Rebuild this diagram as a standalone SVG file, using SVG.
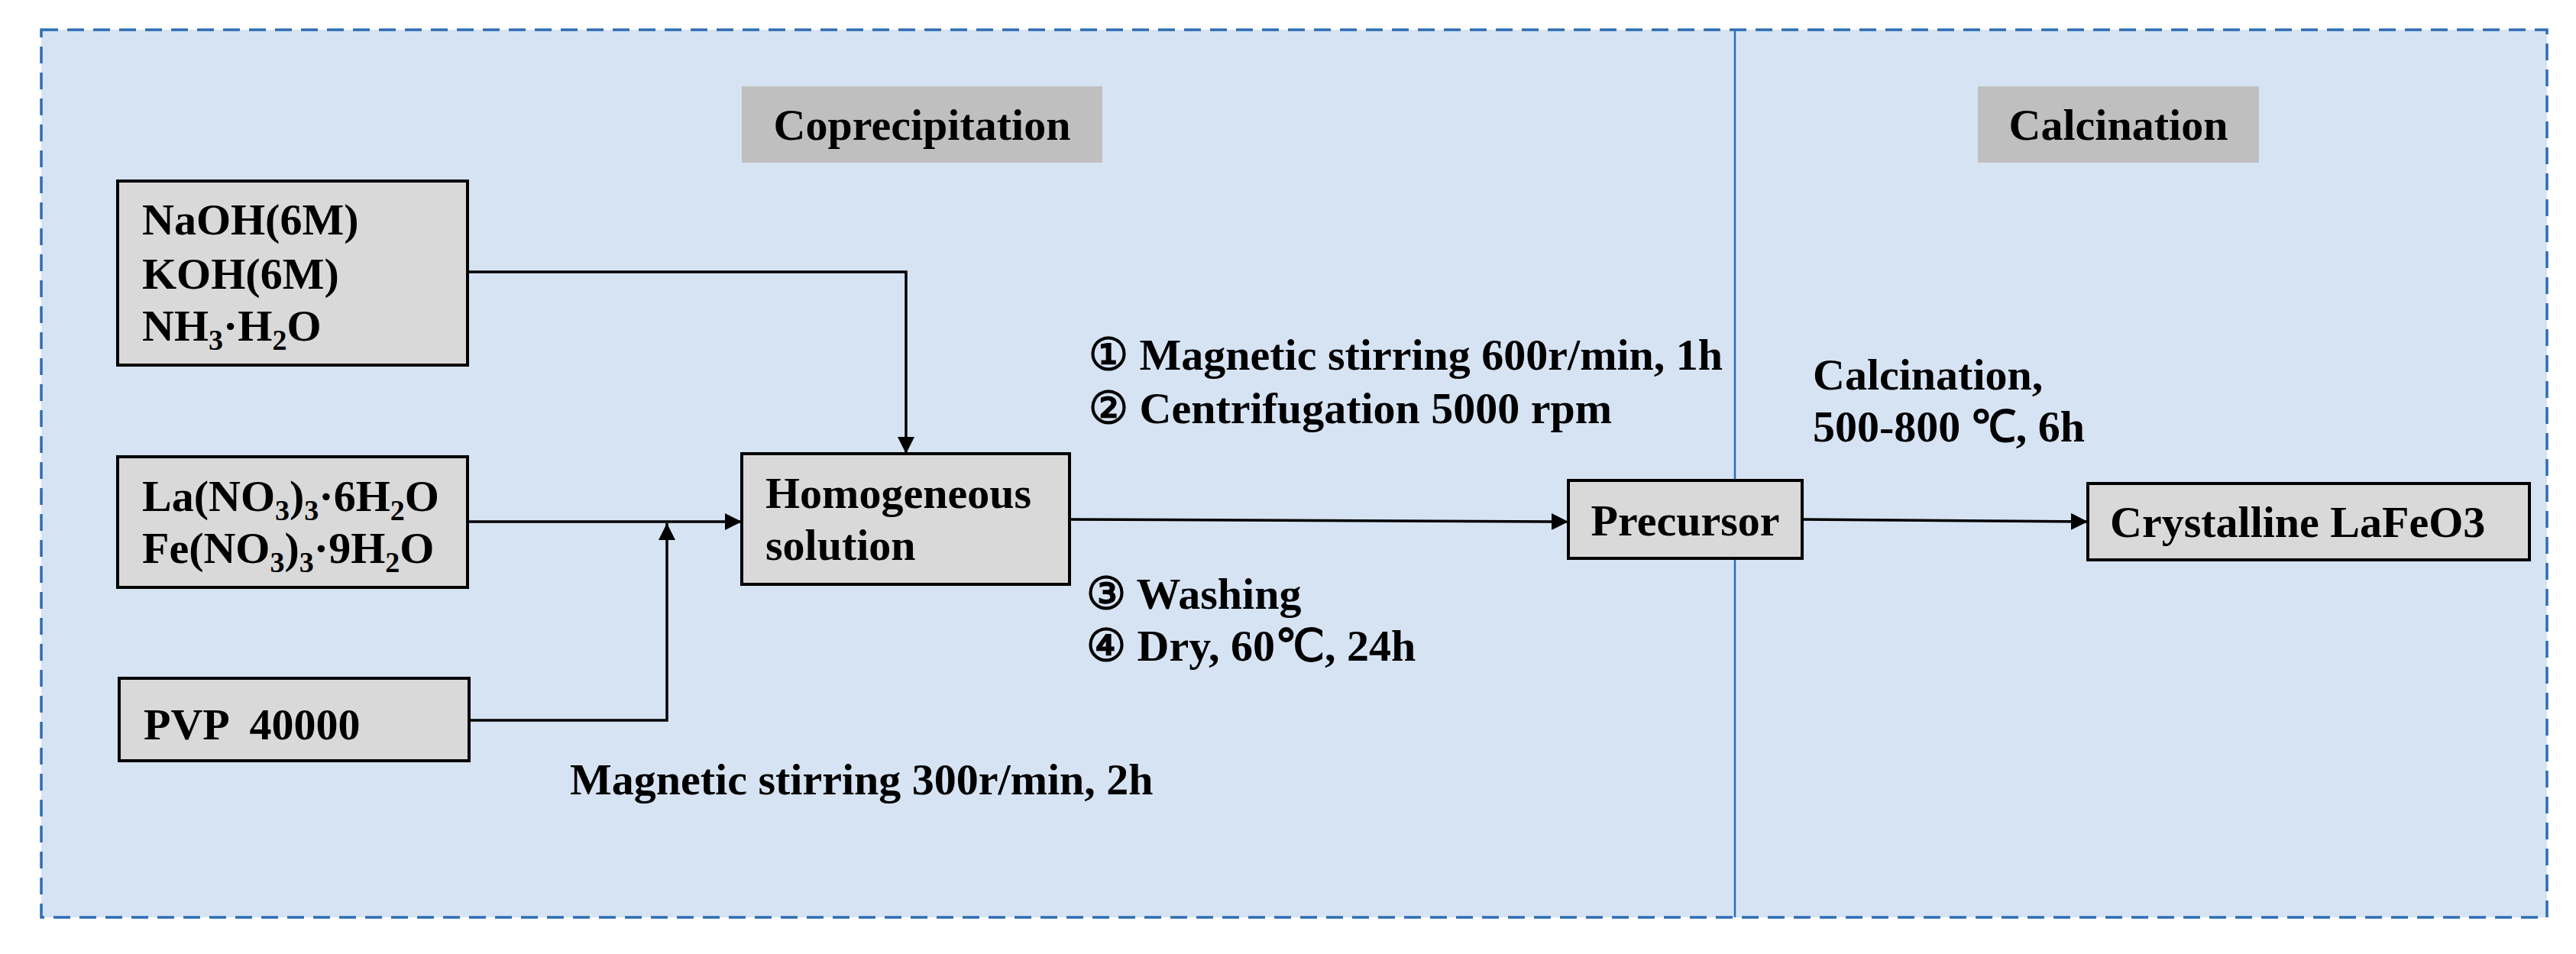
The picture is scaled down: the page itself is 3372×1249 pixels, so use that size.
<svg xmlns="http://www.w3.org/2000/svg" width="3372" height="1249" viewBox="0 0 3372 1249">
<defs>
<style>
text{font-family:"Liberation Serif","Times New Roman",serif;font-weight:bold;font-size:58px;fill:#000}
.box{fill:#d9d9d9;stroke:#000;stroke-width:4}
.lab{fill:#bfbfbf}
.ln{fill:none;stroke:#000;stroke-width:3.5}
.s{font-size:38px}
</style>
<marker id="ah" viewBox="0 0 10 10" refX="10" refY="5" markerWidth="22" markerHeight="22" orient="auto" markerUnits="userSpaceOnUse"><path d="M0,0 L10,5 L0,10z" fill="#000"/></marker>
</defs>
<rect width="3372" height="1249" fill="#fff"/>
<g id="frame">
<rect x="54" y="39" width="3280" height="1162" fill="#d6e3f3" stroke="#2e6db4" stroke-width="3.5" stroke-dasharray="22,12"/>
<line x1="2271" y1="39" x2="2271" y2="1201" stroke="#2e6db4" stroke-width="2.5"/>
</g>
<g id="label-coprecipitation"><rect class="lab" x="971" y="113" width="472" height="100"/><text x="1207" y="183" text-anchor="middle">Coprecipitation</text></g>
<g id="label-calcination"><rect class="lab" x="2589" y="113" width="368" height="100"/><text x="2773" y="183" text-anchor="middle">Calcination</text></g>
<g id="n-base"><rect class="box" x="154" y="237" width="458" height="241"/>
<text x="186" y="307">NaOH(6M)</text><text x="186" y="378">KOH(6M)</text><text x="186" y="446">NH<tspan class="s" dy="12">3</tspan><tspan dy="-12">·H</tspan><tspan class="s" dy="12">2</tspan><tspan dy="-12">O</tspan></text></g>
<g id="n-nitrate"><rect class="box" x="154" y="598" width="458" height="171"/>
<text x="186" y="669">La(NO<tspan class="s" dy="12">3</tspan><tspan dy="-12">)</tspan><tspan class="s" dy="12">3</tspan><tspan dy="-12">·6H</tspan><tspan class="s" dy="12">2</tspan><tspan dy="-12">O</tspan></text>
<text x="186" y="737">Fe(NO<tspan class="s" dy="12">3</tspan><tspan dy="-12">)</tspan><tspan class="s" dy="12">3</tspan><tspan dy="-12">·9H</tspan><tspan class="s" dy="12">2</tspan><tspan dy="-12">O</tspan></text></g>
<g id="n-pvp"><rect class="box" x="156" y="888" width="458" height="108"/><text x="188" y="968" xml:space="preserve">PVP  40000</text></g>
<g id="n-homog"><rect class="box" x="971" y="594" width="429" height="171"/><text x="1002" y="665">Homogeneous</text><text x="1002" y="733">solution</text></g>
<g id="n-precursor"><rect class="box" x="2053" y="629" width="306" height="102"/><text x="2206" y="701" text-anchor="middle">Precursor</text></g>
<g id="n-crystal"><rect class="box" x="2733" y="633" width="578" height="100"/><text x="2762" y="703">Crystalline LaFeO3</text></g>
<g id="connectors">
<polyline class="ln" points="612,356 1186,356 1186,594" marker-end="url(#ah)"/>
<line class="ln" x1="612" y1="683" x2="971" y2="683" marker-end="url(#ah)"/>
<polyline class="ln" points="614,943 873,943 873,685" marker-end="url(#ah)"/>
<line class="ln" x1="1400" y1="680" x2="2053" y2="683" marker-end="url(#ah)"/>
<line class="ln" x1="2359" y1="680" x2="2733" y2="683" marker-end="url(#ah)"/>
</g>
<g id="notes">
<text x="1425" y="484">① Magnetic stirring 600r/min, 1h</text>
<text x="1425" y="554">② Centrifugation 5000 rpm</text>
<text x="1422" y="797">③ Washing</text>
<text x="1422" y="865">④ Dry, 60℃, 24h</text>
<text x="746" y="1040">Magnetic stirring 300r/min, 2h</text>
<text x="2373" y="510">Calcination,</text>
<text x="2373" y="578">500-800 ℃, 6h</text>
</g>
</svg>
